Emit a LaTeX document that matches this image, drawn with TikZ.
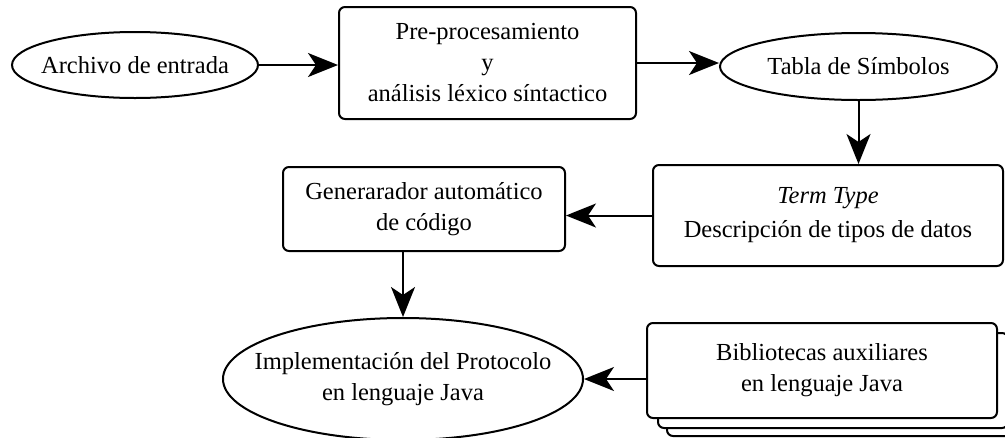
\documentclass[tikz,border=0pt]{standalone}
\usepackage{fontspec}
\setmainfont{Liberation Serif}
\usetikzlibrary{shapes.geometric,arrows.meta}
\begin{document}
\begin{tikzpicture}[x=1pt,y=-1pt,line width=2pt,
  lbl/.style={align=center,font=\fontsize{24.5}{31}\selectfont,inner sep=0pt},
  box/.style={draw,rounded corners=6pt,fill=white,inner sep=0pt,lbl},
  oval/.style={draw,ellipse,inner sep=0pt},
  arr/.style={-{Stealth[length=30pt,width=24pt,inset=8pt]}}]
\useasboundingbox (0,0) rectangle (1005,437);
% nodes
\node[oval,minimum width=246pt,minimum height=66pt] (archivo) at (135,65) {};
\node[lbl] (archivoT) at (archivo) {Archivo de entrada};
\node[box,minimum width=297pt,minimum height=112pt] (pre) at (487.5,63)
  {Pre-procesamiento\\y\\análisis léxico síntactico};
\node[oval,minimum width=277pt,minimum height=67pt] (tabla) at (858.5,66.5) {};
\node[lbl] (tablaT) at (tabla) {Tabla de Símbolos};
\node[box,minimum width=350pt,minimum height=101pt] (term) at (828,215.5)
  {\textit{Term Type}\\[3pt]Descripción de tipos de datos};
\node[box,minimum width=282pt,minimum height=84pt] (gen) at (424,209)
  {Generarador automático\\de código};
\node[oval,minimum width=360pt,minimum height=122pt] (impl) at (403,379) {};
\node[lbl] (implT) at (impl) {Implementación del Protocolo\\en lenguaje Java};
\node[box,minimum width=350pt,minimum height=95pt] (bib3) at (842,388.5) {};
\node[box,minimum width=350pt,minimum height=95pt] (bib2) at (833,380.5) {};
\node[box,minimum width=350pt,minimum height=95pt] (bib) at (822,370.5)
  {Bibliotecas auxiliares\\en lenguaje Java};
% connectors
\draw[arr] (archivo.east) -- (archivo.east -| pre.west);
\draw[arr] (pre.east) -- (pre.east -| tabla.west);
\draw[arr] (tabla.south) -- (tabla.south |- term.north);
\draw[arr] (term.west) -- (term.west -| gen.east);
\draw[arr] (impl.north |- gen.south) -- (impl.north);
\draw[arr] (impl.east -| bib.west) -- (impl.east);
\end{tikzpicture}
\end{document}
